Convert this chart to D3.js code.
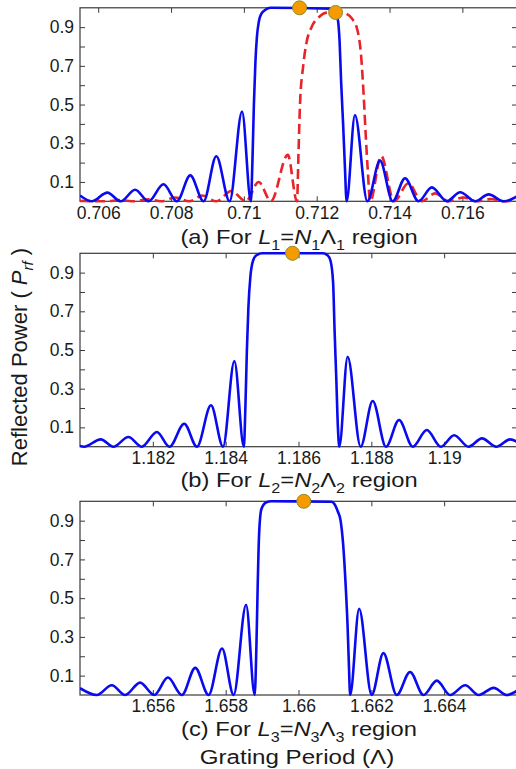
<!DOCTYPE html>
<html>
<head>
<meta charset="utf-8">
<script src="https://cdn.jsdelivr.net/npm/d3@7/dist/d3.min.js"></script>
<style>
html,body{margin:0;padding:0;background:#fff;}
svg{display:block;}
text{font-family:"Liberation Sans",Arial,sans-serif;fill:#1a1a1a;}
</style>
</head>
<body>
<svg id="chart" width="516" height="769"></svg>
<script>
// ---------- DATA ----------
// Panel (a): grating period (um) and reflected power
const aBlueX = [0.7055,0.705822,0.706251,0.70662,0.707014,0.70738,0.707793,0.708161,0.708528,0.708894,0.709243,0.709609,0.70995,0.710193,
  0.710234,0.710275,0.710317,0.710358,0.710413,0.710482,0.710592,0.710729,0.712381,0.712463,0.712518,0.71258,0.71263,0.71267,0.712725,0.712774,0.712821,
  0.71305,0.713391,0.713738,0.714087,0.714426,0.714795,0.715161,0.715573,0.71594,0.716353,0.716721,0.717134,0.7175];
const aBlueY = [0.03,0,0.045,0,0.06,0,0.088,0,0.134,0,0.233,0,0.464,0,
  0.2,0.5,0.72,0.85,0.93,0.97,0.99,1.0,0.995,0.985,0.976,0.94,0.82,0.62,0.4,0.18,0,
  0.446,0,0.21,0,0.119,0,0.072,0,0.047,0,0.036,0,0.025];
const aRedX = [0.7055,0.706216,0.706601,0.706986,0.707372,0.707729,0.708115,0.7085,0.708858,0.709243,0.709656,0.710055,0.710407,0.710743,0.711206,0.711459,
  0.7115,0.711541,0.711629,0.71172,0.711858,0.712051,0.712271,0.712518,0.712766,0.712986,0.713124,0.71322,0.713289,0.713344,0.713399,0.713468,
  0.713771,0.714123,0.714519,0.714885,0.715251,0.71562,0.716033,0.716399,0.716784,0.717142,0.7175];
const aRedY = [0.002,0,0.006,0,0.01,0,0.02,0,0.03,0,0.053,0,0.10,0,0.24,0,
  0.25,0.5,0.70,0.82,0.90,0.95,0.975,0.978,0.972,0.94,0.88,0.75,0.55,0.35,0.17,0,
  0.234,0,0.093,0,0.041,0,0.02,0,0.012,0,0.006];
const aMarkX = [0.71153, 0.712518];
const aMarkY = [1.0, 0.976];

// Panel (b)
const bBlueX = [1.18,1.18011,1.18057,1.180917,1.181329,1.181698,1.182111,1.182458,1.182862,1.183212,1.183597,1.183928,1.184239,1.1845,
  1.184541,1.184583,1.184624,1.184679,1.184748,1.184844,1.185009,1.186661,1.186798,1.186881,1.18695,1.186991,1.187038,1.187082,1.18712,
  1.187349,1.187706,1.188037,1.188403,1.188761,1.189138,1.189523,1.189908,1.190274,1.190671,1.191037,1.191431,1.191816,1.192];
const bBlueY = [0.004,0,0.038,0,0.05,0,0.076,0,0.119,0,0.214,0,0.443,0,
  0.2,0.5,0.72,0.88,0.96,0.99,1.0,1.0,0.99,0.96,0.85,0.6,0.35,0.1,0,
  0.465,0,0.236,0,0.138,0,0.086,0,0.059,0,0.043,0,0.038,0.025];
const bMarkX = [1.185835];
const bMarkY = [1.0];

// Panel (c)
const cBlueX = [1.654,1.65446,1.654872,1.655239,1.655651,1.656037,1.656414,1.656799,1.657165,1.657531,1.6579,1.658219,1.658561,1.658797,
  1.658844,1.65888,1.658918,1.658982,1.659119,1.659257,1.660908,1.660991,1.661074,1.661156,1.661225,1.661294,1.661349,1.661385,1.661418,
  1.661665,1.662009,1.662331,1.662697,1.663063,1.663432,1.663798,1.664164,1.664577,1.664946,1.665359,1.665725,1.666];
const cBlueY = [0.035,0,0.05,0,0.064,0,0.09,0,0.14,0,0.24,0,0.466,0,
  0.25,0.57,0.83,0.96,0.995,1.0,0.998,0.985,0.95,0.9,0.78,0.57,0.35,0.15,0,
  0.445,0,0.216,0,0.119,0,0.074,0,0.05,0,0.037,0,0.022];
const cMarkX = [1.660146];
const cMarkY = [1.0];

// Axis ticks and labels
const aTicks = [0.706,0.708,0.71,0.712,0.714,0.716];
const bTicks = [1.182,1.184,1.186,1.188,1.19];
const cTicks = [1.656,1.658,1.66,1.662,1.664];
const yTickValues = [0.1,0.2,0.3,0.4,0.5,0.6,0.7,0.8,0.9];
const yTickLabels = ["0.1","","0.3","","0.5","","0.7","","0.9"];
const xDomains = [[0.7055,0.7175],[1.18,1.192],[1.654,1.666]];
const panelTitles = [
  ["(a) For ", ["L","i"], ["1","s"], "=", ["N","i"], ["1","s"], "\u039B", ["1","s"], " region"],
  ["(b) For ", ["L","i"], ["2","s"], "=", ["N","i"], ["2","s"], "\u039B", ["2","s"], " region"],
  ["(c) For ", ["L","i"], ["3","s"], "=", ["N","i"], ["3","s"], "\u039B", ["3","s"], " region"]
];
const yLabelParts = ["Reflected Power ( ", ["P","i"], ["rf","si"], " )"];
const xLabelText = "Grating Period (\u039B)";

// ---------- DRAWING ----------
const svg = d3.select("#chart");
const left = 80, right = 517;
const panels = [
  {top: 7.8, bottom: 201.3, titleY: 244},
  {top: 253.3, bottom: 446.7, titleY: 487},
  {top: 501.3, bottom: 695.0, titleY: 736}
];
const series = [
  {blue: [aBlueX, aBlueY], red: [aRedX, aRedY], marks: [aMarkX, aMarkY], ticks: aTicks},
  {blue: [bBlueX, bBlueY], red: null, marks: [bMarkX, bMarkY], ticks: bTicks},
  {blue: [cBlueX, cBlueY], red: null, marks: [cMarkX, cMarkY], ticks: cTicks}
];
const axisColor = "#3a3a3a";
const fontFamily = '"Liberation Sans", Arial, sans-serif';

function addRich(textSel, parts, baseSize){
  let shifted = false;
  const off = baseSize * 0.28;
  parts.forEach(p => {
    const isSub = (typeof p !== "string") && p[1].indexOf("s") === 0;
    const ts = textSel.append("tspan");
    if (isSub && !shifted) { ts.attr("dy", off); shifted = true; }
    else if (!isSub && shifted) { ts.attr("dy", -off); shifted = false; }
    if (typeof p === "string") {
      ts.text(p);
    } else {
      ts.text(p[0]);
      if (p[1].indexOf("i") >= 0) ts.attr("font-style", "italic");
      if (isSub) ts.attr("font-size", baseSize * 0.68);
    }
  });
}

panels.forEach((pn, i) => {
  const s = series[i];
  const x = d3.scaleLinear().domain(xDomains[i]).range([left, right]);
  const y = d3.scaleLinear().domain([0, 1]).range([pn.bottom, pn.top]);
  const g = svg.append("g");

  const clipId = "clip" + i;
  svg.append("clipPath").attr("id", clipId).append("rect")
    .attr("x", left).attr("y", pn.top - 10).attr("width", right - left).attr("height", pn.bottom - pn.top + 12);

  // frame
  g.append("rect").attr("x", left).attr("y", pn.top).attr("width", right - left).attr("height", pn.bottom - pn.top)
    .attr("fill", "none").attr("stroke", axisColor).attr("stroke-width", 1.2);

  // y axis (left) with inward ticks
  const yAxisL = d3.axisLeft(y).tickValues(yTickValues).tickSize(-5).tickPadding(6)
    .tickFormat((d, k) => yTickLabels[k]);
  const gl = g.append("g").attr("transform", `translate(${left},0)`).call(yAxisL);
  gl.select(".domain").remove();
  gl.selectAll(".tick line").attr("stroke", axisColor);
  gl.selectAll(".tick text").attr("font-size", 17.5).attr("font-family", fontFamily).attr("fill", "#1a1a1a");

  const yAxisR = d3.axisRight(y).tickValues(yTickValues).tickSize(-5).tickFormat("");
  const gr = g.append("g").attr("transform", `translate(${right},0)`).call(yAxisR);
  gr.select(".domain").remove();
  gr.selectAll(".tick line").attr("stroke", axisColor);

  // x axis bottom and top
  const xAxisB = d3.axisBottom(x).tickValues(s.ticks).tickSize(-5).tickPadding(5).tickFormat(d => String(d));
  const gb = g.append("g").attr("transform", `translate(0,${pn.bottom})`).call(xAxisB);
  gb.select(".domain").remove();
  gb.selectAll(".tick line").attr("stroke", axisColor);
  gb.selectAll(".tick text").attr("font-size", 17.5).attr("font-family", fontFamily).attr("fill", "#1a1a1a");

  const xAxisT = d3.axisTop(x).tickValues(s.ticks).tickSize(-5).tickFormat("");
  const gt = g.append("g").attr("transform", `translate(0,${pn.top})`).call(xAxisT);
  gt.select(".domain").remove();
  gt.selectAll(".tick line").attr("stroke", axisColor);

  const line = d3.line().x(d => x(d[0])).y(d => y(d[1])).curve(d3.curveMonotoneX);
  const plot = g.append("g").attr("clip-path", `url(#${clipId})`);

  if (s.red) {
    const redData = s.red[0].map((v, k) => [v, s.red[1][k]]);
    plot.append("path").datum(redData).attr("d", line)
      .attr("fill", "none").attr("stroke", "#e8242b").attr("stroke-width", 2.6)
      .attr("stroke-dasharray", "10,5").attr("stroke-linejoin", "round");
  }
  const blueData = s.blue[0].map((v, k) => [v, s.blue[1][k]]);
  plot.append("path").datum(blueData).attr("d", line)
    .attr("fill", "none").attr("stroke", "#0a0aef").attr("stroke-width", 2.6).attr("stroke-linejoin", "round");

  // markers
  g.selectAll("circle.mk").data(s.marks[0].map((v, k) => [v, s.marks[1][k]])).enter()
    .append("circle").attr("class", "mk")
    .attr("cx", d => x(d[0])).attr("cy", d => y(d[1])).attr("r", 7)
    .attr("fill", "#f59b00").attr("stroke", "#8c8c2a").attr("stroke-width", 1);

  // panel title (slightly wide lettering, as in the reference)
  const t = svg.append("text").attr("transform", `translate(299,${pn.titleY}) scale(1.13,1)`)
    .attr("text-anchor", "middle").attr("font-size", 21).attr("font-family", fontFamily);
  addRich(t, panelTitles[i], 21);
});

// overall x label
svg.append("text").attr("transform", "translate(297,763.5) scale(1.15,1)").attr("text-anchor", "middle")
  .attr("font-size", 21).attr("font-family", fontFamily).text(xLabelText);

// y label
const yl = svg.append("text").attr("transform", "translate(27,357) rotate(-90)").attr("text-anchor", "middle")
  .attr("font-size", 22).attr("font-family", fontFamily);
addRich(yl, yLabelParts, 22);
</script>
</body>
</html>
